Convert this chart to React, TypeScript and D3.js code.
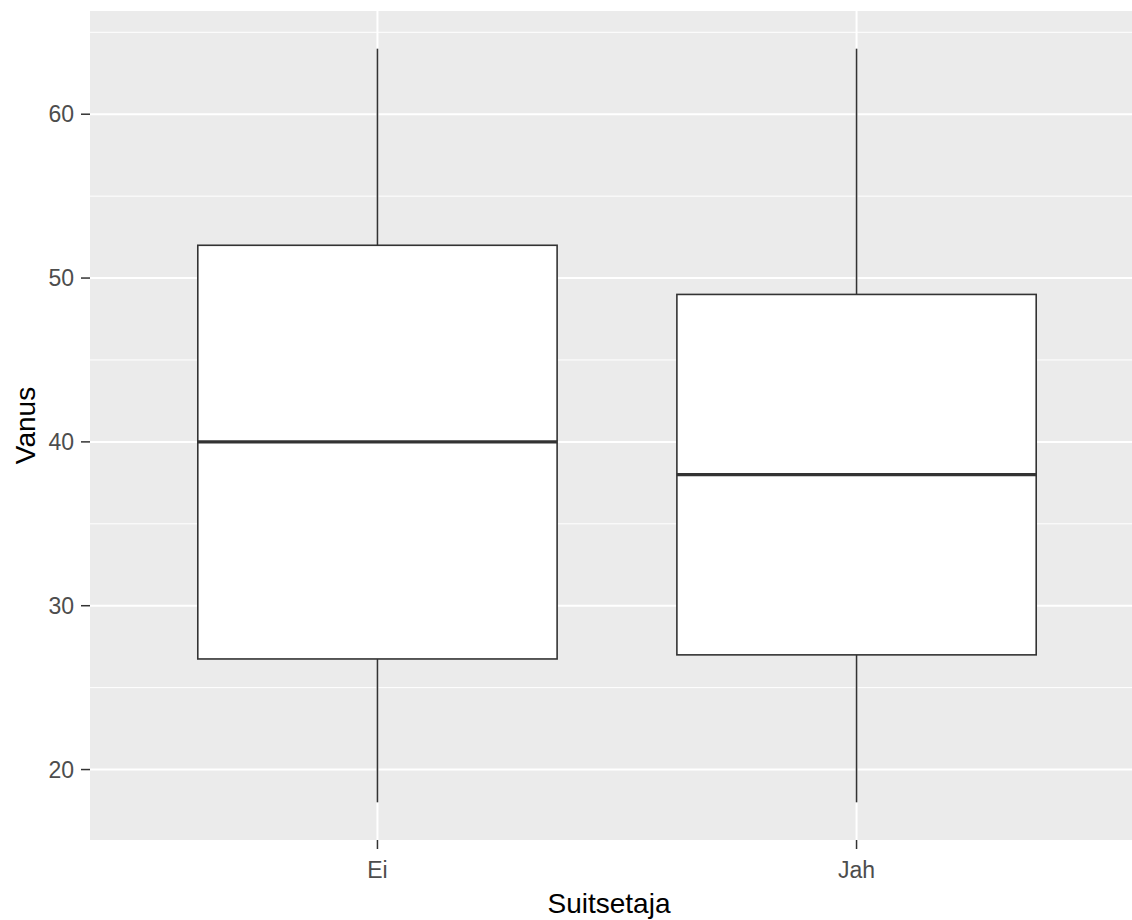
import React from "react";
import * as d3 from "d3";

const categories = ["Ei", "Jah"];
const lowerWhisker = [18, 18];
const q1 = [26.75, 27];
const median = [40, 38];
const q3 = [52, 49];
const upperWhisker = [64, 64];
const yTicks = [20, 30, 40, 50, 60];
const yMinor = [25, 35, 45, 55, 65];
const xTitle = "Suitsetaja";
const yTitle = "Vanus";

const W = 1132;
const H = 920;
const panel = { left: 90, top: 11, right: 1144, bottom: 840 };

export default function App() {
  const y = d3.scaleLinear().domain([15.7, 66.3]).range([panel.bottom, panel.top]);
  const x = d3
    .scalePoint<string>()
    .domain(categories)
    .range([panel.left, panel.right])
    .padding(0.6);
  const step = x.step();
  const cx = (i: number) => x(categories[i]) as number;
  const bw = 0.75 * step;
  const font = "'Liberation Sans', Arial, sans-serif";
  return (
    <svg width={W} height={H} style={{ display: "block", position: "absolute", left: 0, top: 0 }}>
      <rect x={0} y={0} width={W} height={H} fill="#ffffff" />
      <rect x={panel.left} y={panel.top} width={panel.right - panel.left} height={panel.bottom - panel.top} fill="#EBEBEB" />
      {yMinor.map((t) => (
        <line key={"mn" + t} x1={panel.left} x2={panel.right} y1={y(t)} y2={y(t)} stroke="#ffffff" strokeWidth={1} />
      ))}
      {yTicks.map((t) => (
        <line key={"mj" + t} x1={panel.left} x2={panel.right} y1={y(t)} y2={y(t)} stroke="#ffffff" strokeWidth={2} />
      ))}
      {categories.map((c, i) => (
        <line key={"vx" + c} x1={cx(i)} x2={cx(i)} y1={panel.top} y2={panel.bottom} stroke="#ffffff" strokeWidth={2} />
      ))}
      {categories.map((c, i) => (
        <g key={"box" + c}>
          <line x1={cx(i)} x2={cx(i)} y1={y(upperWhisker[i])} y2={y(q3[i])} stroke="#333333" strokeWidth={1.6} />
          <line x1={cx(i)} x2={cx(i)} y1={y(q1[i])} y2={y(lowerWhisker[i])} stroke="#333333" strokeWidth={1.6} />
          <rect
            x={cx(i) - bw / 2}
            y={y(q3[i])}
            width={bw}
            height={y(q1[i]) - y(q3[i])}
            fill="#ffffff"
            stroke="#333333"
            strokeWidth={1.6}
          />
          <line x1={cx(i) - bw / 2} x2={cx(i) + bw / 2} y1={y(median[i])} y2={y(median[i])} stroke="#333333" strokeWidth={3.2} />
        </g>
      ))}
      {yTicks.map((t) => (
        <g key={"yt" + t}>
          <line x1={panel.left - 9} x2={panel.left} y1={y(t)} y2={y(t)} stroke="#333333" strokeWidth={1.5} />
          <text x={74} y={y(t)} dy="0.36em" textAnchor="end" fontFamily={font} fontSize={23} fill="#4D4D4D">
            {t}
          </text>
        </g>
      ))}
      {categories.map((c, i) => (
        <g key={"xt" + c}>
          <line x1={cx(i)} x2={cx(i)} y1={panel.bottom} y2={panel.bottom + 9} stroke="#333333" strokeWidth={1.5} />
          <text x={cx(i)} y={878} textAnchor="middle" fontFamily={font} fontSize={23} fill="#4D4D4D">
            {c}
          </text>
        </g>
      ))}
      <text x={609} y={913} textAnchor="middle" fontFamily={font} fontSize={28} fill="#000000">
        {xTitle}
      </text>
      <text
        transform={`translate(35, ${(panel.top + panel.bottom) / 2}) rotate(-90)`}
        textAnchor="middle"
        fontFamily={font}
        fontSize={28}
        fill="#000000"
      >
        {yTitle}
      </text>
    </svg>
  );
}
